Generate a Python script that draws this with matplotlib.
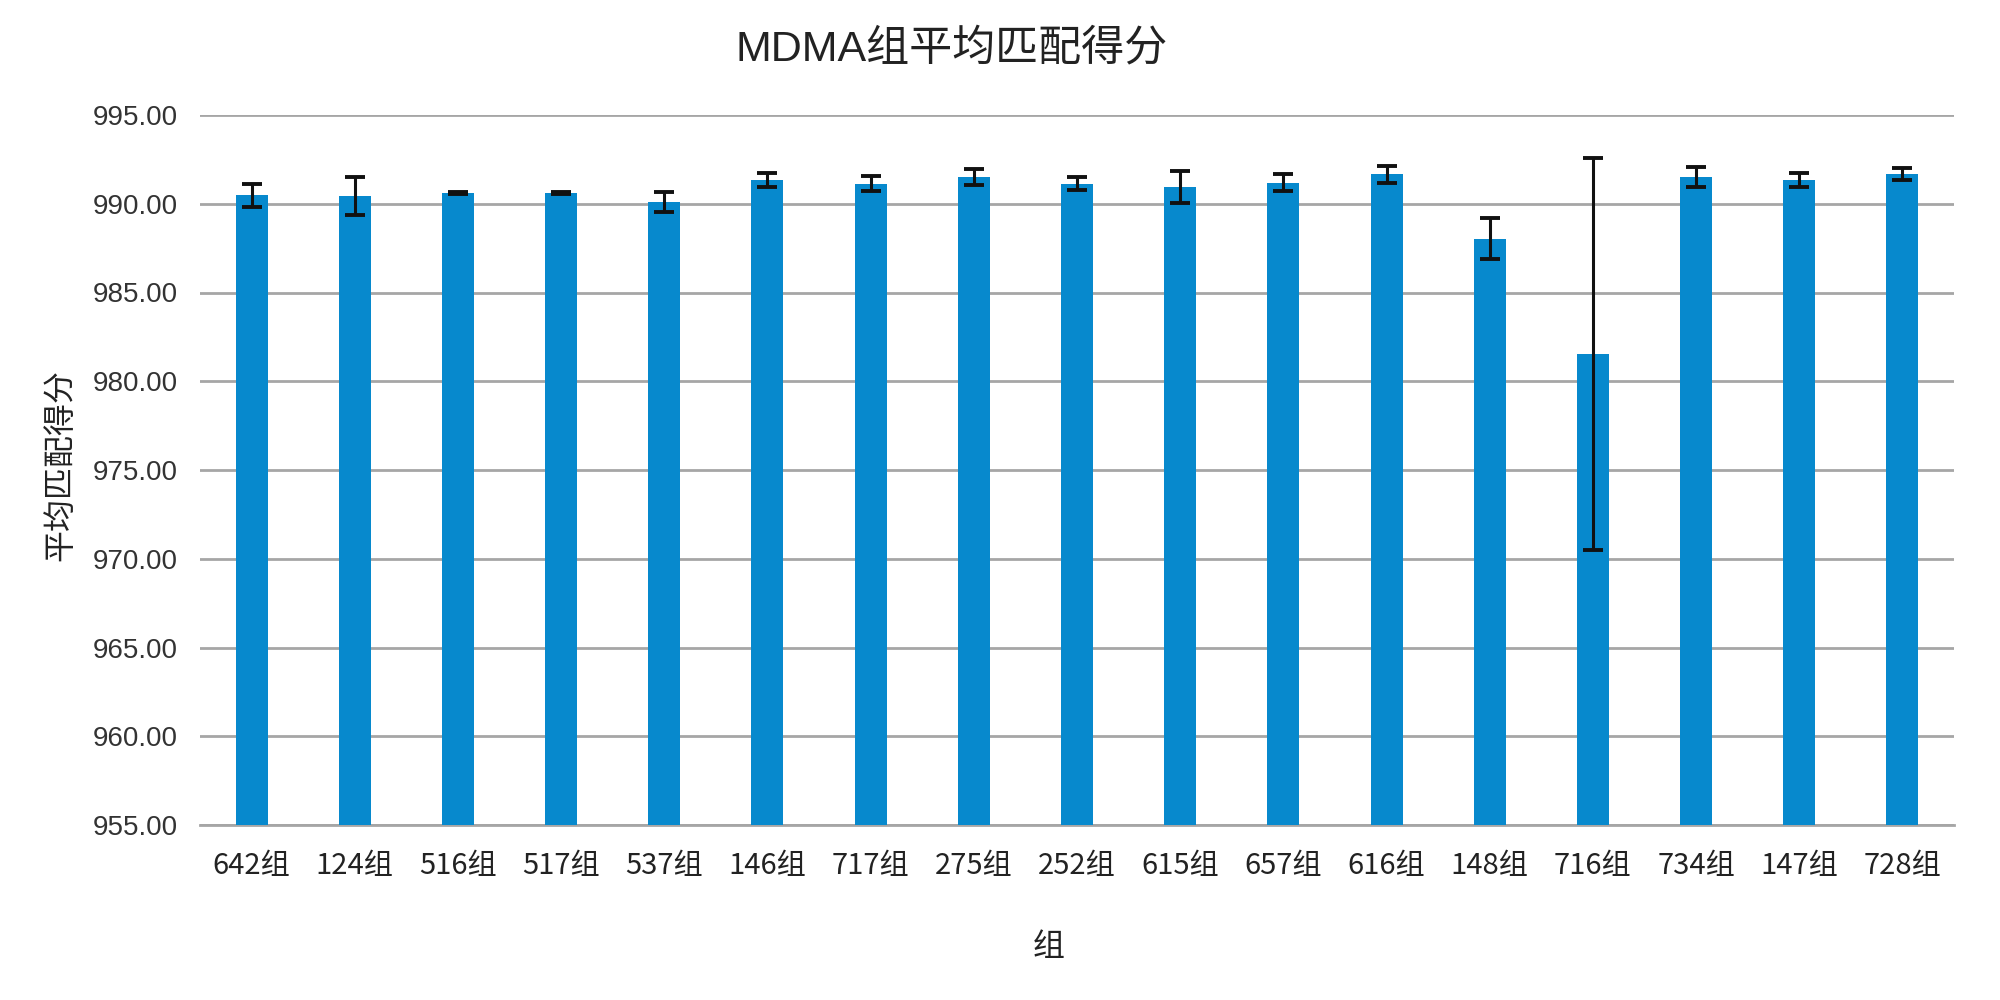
import matplotlib
matplotlib.use("Agg")
import matplotlib.pyplot as plt
import numpy as np

categories = ["642组", "124组", "516组", "517组", "537组", "146组", "717组", "275组", "252组",
              "615组", "657组", "616组", "148组", "716组", "734组", "147组", "728组"]
means = [990.47, 990.41, 990.63, 990.63, 990.09, 991.36, 991.14, 991.51, 991.14,
         990.93, 991.18, 991.66, 988.02, 981.52, 991.51, 991.36, 991.68]
errors = [0.65, 1.07, 0.06, 0.06, 0.56, 0.40, 0.42, 0.47, 0.35,
          0.90, 0.47, 0.47, 1.15, 11.05, 0.55, 0.39, 0.33]
yticks = [955, 960, 965, 970, 975, 980, 985, 990, 995]

plt.rcParams['font.family'] = ['Liberation Sans', 'Noto Sans CJK SC', 'DejaVu Sans']

fig = plt.figure(figsize=(20, 10), dpi=100)
ax = fig.add_axes([0.10, 0.175, 0.877, 0.710])

x = np.arange(len(categories))
ax.bar(x, np.array(means) - 955, bottom=955, width=0.31, color='#0789cd', zorder=3)
ax.errorbar(x, means, yerr=errors, fmt='none', ecolor='#111111', elinewidth=2.2,
            capsize=7, capthick=2.8, zorder=4)

ax.set_ylim(955, 995)
ax.set_xlim(-0.5, len(categories) - 0.5)
ax.set_yticks(yticks)
ax.set_yticklabels([f"{v:.2f}" for v in yticks], fontsize=20, color='#333333')
ax.set_xticks(x)
ax.set_xticklabels(categories, fontsize=21, color='#222222', family=['Noto Sans CJK SC'])
ax.tick_params(axis='both', length=0)
ax.tick_params(axis='y', pad=16)
ax.tick_params(axis='x', pad=19)
ax.yaxis.grid(True, color='#a6a6a6', linewidth=2.0, zorder=0)
ax.set_axisbelow(True)
for s in ['top', 'right', 'left']:
    ax.spines[s].set_visible(False)
ax.spines['bottom'].set_color('#a6a6a6')
ax.spines['bottom'].set_linewidth(2.0)

fig.text(0.476, 0.951, "MDMA组平均匹配得分", fontsize=31, ha='center', va='center', color='#222222')
fig.text(0.030, 0.535, "平均匹配得分", fontsize=23, rotation=90, ha='center', va='center',
         color='#222222', family=['Noto Sans CJK SC'])
fig.text(0.5245, 0.053, "组", fontsize=23, ha='center', va='center', color='#222222',
         family=['Noto Sans CJK SC'])

fig.savefig("out.png", dpi=100)
